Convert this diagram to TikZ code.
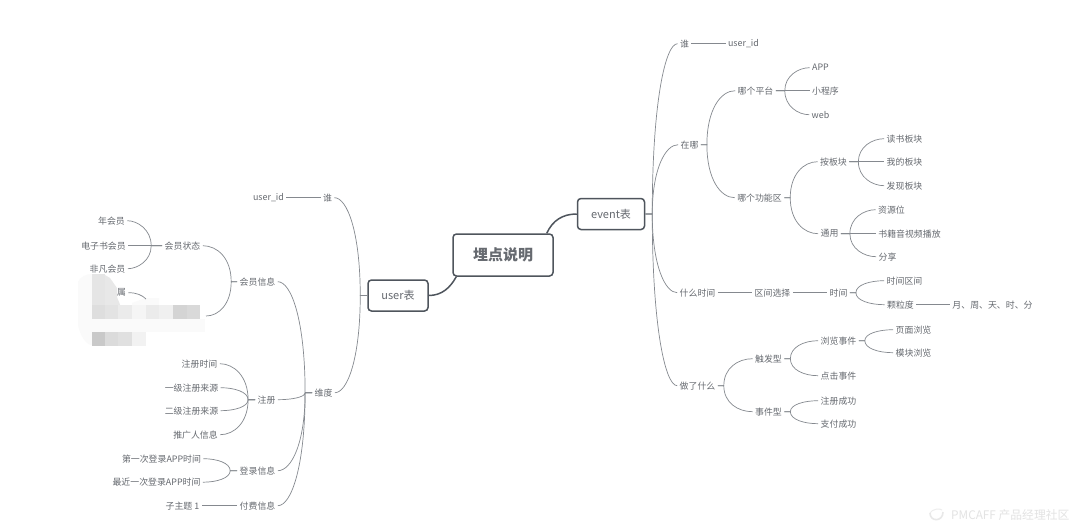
\documentclass[tikz,border=0pt]{standalone}
\usepackage{fontspec}
\setmainfont{Noto Sans CJK SC}
\usetikzlibrary{calc}
\definecolor{ink}{HTML}{666A70}
\definecolor{edge}{HTML}{85898F}
\definecolor{boxc}{HTML}{4F555D}
\tikzset{
  x=1pt,y=-1pt,
  lbl/.style={inner sep=2.5pt,outer sep=0pt,text=ink,font=\fontsize{8.9}{10}\selectfont,yshift=-0.7pt,xshift=0.5pt},
  bx/.style={draw=boxc,line width=1.5pt,rounded corners=3.5pt,fill=white,text=ink,inner sep=0pt,anchor=center},
  link/.style={draw=edge,line width=.7pt},
  thick link/.style={draw=boxc,line width=1.5pt},
}
% right-growing and left-growing branches: stub of #1 then a bend to the child
\newcommand{\rbr}[3][6]{\draw[link] let \p1=(#2.east),\p2=(#3.west) in (\p1) -- (\x1+#1,\y1) .. controls (\x1+#1,\y1+0.65*\y2-0.65*\y1) and (\x1+#1+0.4*\x2-0.4*\x1,\y2) .. (\p2);}
\newcommand{\lbr}[3][6]{\draw[link] let \p1=(#2.west),\p2=(#3.east) in (\p1) -- (\x1-#1,\y1) .. controls (\x1-#1,\y1+0.65*\y2-0.65*\y1) and (\x1-#1+0.4*\x2-0.4*\x1,\y2) .. (\p2);}
\newcommand{\blurcell}[4]{\fill[black!#4] (#1,#2) rectangle ++(#3,13.5);}
\begin{document}
\begin{tikzpicture}
\useasboundingbox (0,0) rectangle (1080,531);
\fill[white] (0,0) rectangle (1080,531);
% pixelated blur
\fill[black!2] (78,282) .. controls (80,277) and (86,274) .. (92,274) -- (92,345) .. controls (86,345) and (80,335) .. (78,325) -- cycle;
\fill[black!10] (92,274) -- (105,274) -- (105,305) -- (92,305) -- cycle;
\fill[black!9] (105,275) -- (110,278) -- (117,288) -- (117,297) -- (123,312) -- (118,305) -- (105,305) -- cycle;
\fill[black!2] (132,305) -- (132,303) -- (146,298) -- (159,298) -- (159,305) -- cycle;
\fill[black!2] (92,318.5) rectangle (205,332);
\foreach \a/\b/\w/\s in {92/305/13/13,105/305/13/11,118/305/14/8,132/305/14/4,146/305/13/8,159/305/14/6,173/305/14/17,187/305/13/15,
 92/332/13/21,105/332/13/14,118/332/14/12,132/332/14/5}
 {\blurcell{\a}{\b}{\w}{\s}}
% central boxes
\node[bx,minimum width=100pt,minimum height=42pt] (root) at (503,255) {\fontsize{15}{17}\selectfont\bfseries 埋点说明};
\node[bx,minimum width=67pt,minimum height=31pt] (event) at (611,214) {\fontsize{11}{13}\selectfont event表};
\node[bx,minimum width=60pt,minimum height=31pt] (user) at (398,295.5) {\fontsize{11}{13}\selectfont user表};
\draw[thick link] (root.north east) ++(-7,0) .. controls +(6,-13) and +(-14,0) .. (event.west);
\draw[thick link] (root.south west) ++(4,0) .. controls +(-6,11) and +(13,0) .. (user.east);
% labels
\foreach \n/\x/\y/\t in {
 ewho/684/43/谁, euid/743/43/user\_id, ewhere/689/144/在哪, plat/755/90/哪个平台, func/759/197/哪个功能区,
 app/820/67/APP, mini/825/90/小程序, web/820/114/web, byb/833/161/按板块, gen/829/233/通用,
 rb1/904/138/读书板块, rb2/904/161/我的板块, rb3/904/185/发现板块, res/891/209/资源位, play/909/233/书籍音视频播放, share/887/256/分享,
 ewhen/697/292/什么时间, rng/772/292/区间选择, tim/838/292/时间, intv/904/280/时间区间, gran/900/304/颗粒度, units/992/304/{月、周、天、时、分},
 ewhat/697/385/做了什么, trig/768/358/触发型, evt/768/411/事件型, brw/838/340/浏览事件, clk/838/375/点击事件, rok/838/400/注册成功, pok/838/423/支付成功, pv/913/329/页面浏览, mv/913/352/模块浏览,
 uwho/327/197/谁, uuid/268/197/user\_id, dim/323/392/维度, minfo/257/281/会员信息, reg/266/399/注册, login/257/470/登录信息, pay/257/505/付费信息,
 mstat/182/245/会员状态, yr/111/220/年会员, ebook/103/245/电子书会员, fan/107/268/非凡会员, mem/121/292/属,
 rt/199/363/注册时间, r1/191/387/一级注册来源, r2/191/410/二级注册来源, ref/195/434/推广人信息,
 l1/161/458/第一次登录APP时间, l2/156/481.5/最近一次登录APP时间, sub/182/505/子主题 1}
 {\node[lbl] (\n) at (\x,\y) {\t};}
\coordinate (hid) at (206,316);
\coordinate (memend) at (146,299);
% event branches
\foreach \c in {ewho,ewhere,ewhen,ewhat} {\rbr[7]{event}{\c}}
\rbr{ewho}{euid}
\foreach \c in {plat,func} {\rbr{ewhere}{\c}}
\foreach \c in {app,mini,web} {\rbr[9]{plat}{\c}}
\foreach \c in {byb,gen} {\rbr{func}{\c}}
\foreach \c in {rb1,rb2,rb3} {\rbr[9]{byb}{\c}}
\foreach \c in {res,play,share} {\rbr[9]{gen}{\c}}
\rbr{ewhen}{rng}
\rbr{rng}{tim}
\foreach \c in {intv,gran} {\rbr{tim}{\c}}
\rbr{gran}{units}
\foreach \c in {trig,evt} {\rbr{ewhat}{\c}}
\foreach \c in {brw,clk} {\rbr{trig}{\c}}
\foreach \c in {rok,pok} {\rbr{evt}{\c}}
\foreach \c in {pv,mv} {\rbr{brw}{\c}}
% user branches
\foreach \c in {uwho,dim} {\lbr[7]{user}{\c}}
\lbr{uwho}{uuid}
\foreach \c in {minfo,reg,login,pay} {\lbr[7]{dim}{\c}}
\lbr{minfo}{mstat}
\lbr{minfo}{hid}
\foreach \c in {yr,ebook,fan} {\lbr[11]{mstat}{\c}}
\foreach \c in {rt,r1,r2,ref} {\lbr[7]{reg}{\c}}
\foreach \c in {l1,l2} {\lbr[7]{login}{\c}}
\lbr{pay}{sub}
\draw[link] (mem.east) .. controls +(8,0) and +(-4,-4) .. (memend);
% watermark
\draw[black!9,line width=1.6pt] (930,513) .. controls (930,522) and (943,522) .. (943,512);
\draw[black!7,line width=1pt] (930,513) .. controls (932,509) and (940,508) .. (942,510);
\node[text=black!11,font=\fontsize{11.8}{13}\selectfont,anchor=west,inner sep=0pt] (wm) at (951,515) {PMCAFF 产品经理社区};
\end{tikzpicture}
\end{document}
